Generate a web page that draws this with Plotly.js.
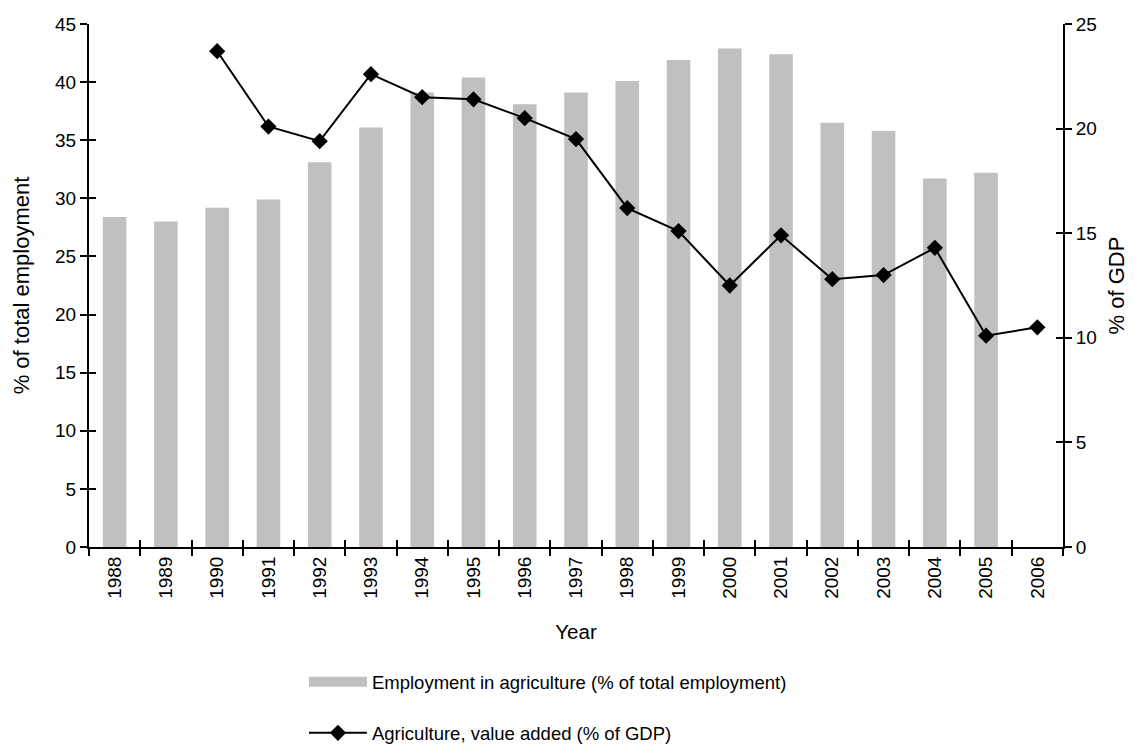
<!DOCTYPE html>
<html>
<head>
<meta charset="utf-8">
<script src="https://cdn.plot.ly/plotly-3.0.1.min.js"></script>
<style>html,body{margin:0;padding:0;background:#fff}#chart{width:1137px;height:752px}</style>
</head>
<body>
<div id="chart"></div>
<script>
const years = ["1988","1989","1990","1991","1992","1993","1994","1995","1996","1997","1998","1999","2000","2001","2002","2003","2004","2005","2006"];
const barYears = ["1988","1989","1990","1991","1992","1993","1994","1995","1996","1997","1998","1999","2000","2001","2002","2003","2004","2005"];
const employment = [28.4,28.0,29.2,29.9,33.1,36.1,39.1,40.4,38.1,39.1,40.1,41.9,42.9,42.4,36.5,35.8,31.7,32.2];
const lineYears = ["1990","1991","1992","1993","1994","1995","1996","1997","1998","1999","2000","2001","2002","2003","2004","2005","2006"];
const valueAdded = [23.7,20.1,19.4,22.6,21.5,21.4,20.5,19.5,16.2,15.1,12.5,14.9,12.8,13.0,14.3,10.1,10.5];
const barName = "Employment in agriculture (% of total employment)";
const lineName = "Agriculture, value added (% of GDP)";
const leftTitle = "% of total employment";
const rightTitle = "% of GDP";
const xTitle = "Year";

const font = {family: "Liberation Sans, Arial, sans-serif", color: "#000"};
const f = s => Object.assign({size: s}, font);
const traces = [
  {type: "bar", x: barYears, y: employment, name: barName, marker: {color: "#c0c0c0"},
   xaxis: "x", yaxis: "y", showlegend: false},
  {type: "scatter", mode: "lines", x: [null], y: [null], name: barName,
   line: {color: "#c0c0c0", width: 18}, xaxis: "x", yaxis: "y", legendgroup: "a", hoverinfo: "skip"},
  {type: "scatter", mode: "lines+markers", x: lineYears, y: valueAdded, name: lineName,
   line: {color: "#000", width: 2}, marker: {symbol: "diamond", size: 12.5, color: "#000"},
   xaxis: "x2", yaxis: "y2", legendgroup: "b"},
  {type: "scatter", mode: "lines", x: [null], y: [null], xaxis: "x", yaxis: "y3", showlegend: false, hoverinfo: "skip"},
  {type: "scatter", mode: "lines", x: [null], y: [null], xaxis: "x", yaxis: "y4", showlegend: false, hoverinfo: "skip"}
];
const tickCommon = {ticklen: 7, tickwidth: 2, tickcolor: "#000", showgrid: false, zeroline: false, automargin: false};
const layout = {
  width: 1137, height: 752,
  margin: {l: 89, r: 74, t: 24, b: 205, autoexpand: false},
  paper_bgcolor: "#fff", plot_bgcolor: "#fff",
  font: f(18),
  bargap: 0.54,
  showlegend: true,
  legend: {x: 0.2207, xanchor: "left", xref: "paper", y: 0.118, yanchor: "top", yref: "container",
    font: f(18.5), tracegroupgap: 24, itemwidth: 58, bgcolor: "rgba(0,0,0,0)"},
  xaxis: Object.assign({type: "category", categoryorder: "array", categoryarray: years, range: [-0.5, 18.5],
    tickson: "boundaries", ticks: "outside",
    showline: true, linecolor: "#000", linewidth: 2,
    tickangle: -90, tickfont: f(19),
    title: {text: xTitle, font: f(20.5), standoff: 27}}, tickCommon),
  xaxis2: Object.assign({type: "category", categoryorder: "array", categoryarray: years, range: [-0.5, 18.5],
    overlaying: "x", anchor: "y", tickson: "boundaries", ticks: "inside",
    showline: false, showticklabels: false}, tickCommon),
  yaxis: Object.assign({range: [0, 45], dtick: 5, tick0: 0, ticks: "outside",
    showline: true, linecolor: "#000", linewidth: 2,
    tickfont: f(19),
    title: {text: leftTitle, font: f(22), standoff: 19}}, tickCommon),
  yaxis2: Object.assign({range: [0, 25], dtick: 5, tick0: 0, overlaying: "y", side: "right", anchor: "x",
    ticks: "outside", showline: true, linecolor: "#000", linewidth: 2,
    tickfont: f(19),
    title: {text: rightTitle, font: f(22), standoff: 13}}, tickCommon),
  yaxis3: Object.assign({range: [0, 45], dtick: 5, tick0: 0, overlaying: "y", side: "left", anchor: "x",
    ticks: "inside", showticklabels: false, showline: false}, tickCommon),
  yaxis4: Object.assign({range: [0, 25], dtick: 5, tick0: 0, overlaying: "y", side: "right", anchor: "x",
    ticks: "inside", showticklabels: false, showline: false}, tickCommon)
};
Plotly.newPlot("chart", traces, layout, {staticPlot: true});
</script>
</body>
</html>
